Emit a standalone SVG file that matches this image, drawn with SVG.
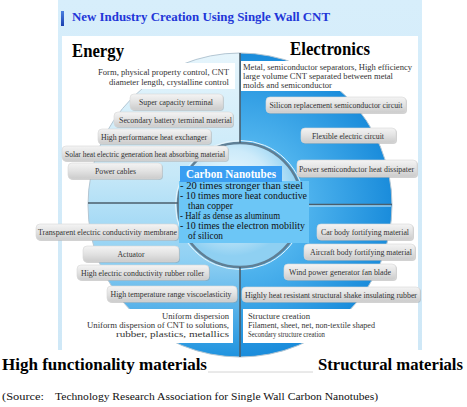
<svg xmlns="http://www.w3.org/2000/svg" width="467" height="407" viewBox="0 0 467 407" font-family="'Liberation Serif','Times New Roman',serif">
<style>
.serif{font-family:"Liberation Serif","Times New Roman",serif;}
.pill rect.bg{fill:url(#pillGrad);stroke:#d6d6d6;stroke-width:0.6;}
.pill rect.sh{fill:#9a9a9a;opacity:0.45;}
.pill text{font-family:"Liberation Serif","Times New Roman",serif;font-size:8px;fill:#333;text-anchor:middle;}
.desc{font-family:"Liberation Serif","Times New Roman",serif;font-size:9px;fill:#333;}
.head{font-family:"Liberation Serif","Times New Roman",serif;font-weight:bold;fill:#000;}
.div{stroke:#4b5e6b;stroke-width:1.6;fill:none;}
.cnt{font-family:"Liberation Serif","Times New Roman",serif;font-size:10px;fill:#111;}
</style>
<defs>
<linearGradient id="pillGrad" x1="0" y1="0" x2="0" y2="1">
<stop offset="0" stop-color="#f4f4f4"/>
<stop offset="0.5" stop-color="#e2e2e2"/>
<stop offset="1" stop-color="#cbcbcb"/>
</linearGradient>
<linearGradient id="topBg" x1="0" y1="0" x2="0" y2="1">
<stop offset="0" stop-color="#d7eefb"/>
<stop offset="1" stop-color="#cfe8f7"/>
</linearGradient>
<linearGradient id="leftGrad" gradientUnits="userSpaceOnUse" x1="0" y1="53" x2="0" y2="357">
<stop offset="0" stop-color="#e6f5fc"/>
<stop offset="0.4" stop-color="#c6e8f8"/>
<stop offset="0.68" stop-color="#8fd0f3"/>
<stop offset="1" stop-color="#1f93df"/>
</linearGradient>
<radialGradient id="rightGrad" gradientUnits="userSpaceOnUse" cx="240" cy="205" r="152">
<stop offset="0" stop-color="#9fd8f6"/>
<stop offset="0.45" stop-color="#4db2ed"/>
<stop offset="1" stop-color="#1a8cdb"/>
</radialGradient>
<radialGradient id="lensGrad" gradientUnits="userSpaceOnUse" cx="232" cy="190" r="66">
<stop offset="0" stop-color="#f2fbff"/>
<stop offset="0.6" stop-color="#cdebfa"/>
<stop offset="1" stop-color="#8fd0f2"/>
</radialGradient>
<linearGradient id="titleBar" x1="0" y1="0" x2="0" y2="1">
<stop offset="0" stop-color="#4a7fe0"/>
<stop offset="1" stop-color="#1a3fb0"/>
</linearGradient>
</defs>

<!-- background frame -->
<g id="frame">
<rect x="58" y="0" width="364" height="350" fill="url(#topBg)"/>
<rect x="62" y="36" width="356" height="314" fill="#ffffff"/>
</g>

<!-- big circle -->
<g id="circle">
<path d="M240,53 A152,152 0 0,0 240,357 Z" fill="url(#leftGrad)"/>
<path d="M240,53 A152,152 0 0,1 240,357 Z" fill="url(#rightGrad)"/>
<circle cx="240" cy="205" r="152" fill="none" stroke="#b3c6d3" stroke-width="1"/>
<circle cx="240" cy="205" r="62" fill="url(#lensGrad)" stroke="#5f7f95" stroke-width="2.5"/>
<circle cx="240" cy="205" r="64.5" fill="none" stroke="#e6f5fc" stroke-width="1"/>
</g>

<!-- connectors / dividers -->
<g id="connectors">
<line class="div" x1="240" y1="53" x2="240" y2="143"/>
<line class="div" x1="240" y1="267" x2="240" y2="357"/>
<line class="div" x1="88" y1="203" x2="178" y2="203"/>
<line class="div" x1="302" y1="204.5" x2="392" y2="204.5"/>
<line x1="302" y1="206" x2="391" y2="206" stroke="#cfeefc" stroke-width="1"/>
</g>

<!-- title -->
<g id="title">
<rect x="61" y="11" width="3" height="15" fill="url(#titleBar)"/>
<text x="72" y="21" class="serif" font-size="13" font-weight="bold" fill="#2236d8" textLength="258" lengthAdjust="spacingAndGlyphs">New Industry Creation Using Single Wall CNT</text>
</g>

<!-- quadrant headings -->
<g id="energy"><text class="head" x="72" y="57" font-size="18" textLength="52" lengthAdjust="spacingAndGlyphs">Energy</text></g>
<g id="electronics"><text class="head" x="290" y="55" font-size="18" textLength="80" lengthAdjust="spacingAndGlyphs">Electronics</text></g>
<g id="high-functionality"><text class="head" x="2" y="370" font-size="17" textLength="205" lengthAdjust="spacingAndGlyphs">High functionality materials</text></g>
<g id="structural"><text class="head" x="318" y="370" font-size="16.5" textLength="145" lengthAdjust="spacingAndGlyphs">Structural materials</text></g>
<line x1="208" y1="372" x2="313" y2="372" stroke="#d4d4d4" stroke-width="1"/>

<!-- descriptive boxes -->
<g id="energy-desc">
<rect x="93" y="63" width="142" height="26" fill="#ffffff"/>
<text class="desc" x="229" y="75" text-anchor="end" textLength="131" lengthAdjust="spacingAndGlyphs">Form, physical property control, CNT</text>
<text class="desc" x="229" y="85" text-anchor="end" textLength="120" lengthAdjust="spacingAndGlyphs">diameter length, crystalline control</text>
</g>
<g id="electronics-desc">
<rect x="241" y="61" width="172" height="30" fill="#ffffff"/>
<text class="desc" x="243" y="70" textLength="169" lengthAdjust="spacingAndGlyphs">Metal, semiconductor separators, High efficiency</text>
<text class="desc" x="243" y="79" textLength="150" lengthAdjust="spacingAndGlyphs">large volume CNT separated between metal</text>
<text class="desc" x="243" y="88" textLength="89" lengthAdjust="spacingAndGlyphs">molds and semiconductor</text>
</g>
<g id="functionality-desc">
<rect x="84" y="309" width="149" height="34" fill="#ffffff"/>
<text class="desc" x="229" y="319" text-anchor="end" textLength="67" lengthAdjust="spacingAndGlyphs">Uniform dispersion</text>
<text class="desc" x="229" y="328" text-anchor="end" textLength="142" lengthAdjust="spacingAndGlyphs">Uniform dispersion of CNT to solutions,</text>
<text class="desc" x="229" y="337" text-anchor="end" textLength="113" lengthAdjust="spacingAndGlyphs">rubber, plastics, metallics</text>
</g>
<g id="structural-desc">
<rect x="243" y="309" width="138" height="34" fill="#ffffff"/>
<text class="desc" x="248" y="319" textLength="62" lengthAdjust="spacingAndGlyphs">Structure creation</text>
<text class="desc" x="248" y="328" textLength="127" lengthAdjust="spacingAndGlyphs">Filament, sheet, net, non-textile shaped</text>
<text class="desc" x="248" y="337" textLength="77" lengthAdjust="spacingAndGlyphs">Secondary structure creation</text>
</g>

<!-- pills -->
<g id="p-super" class="pill"><rect class="sh" x="131" y="95" width="93" height="16" rx="4"/><rect class="bg" x="130" y="94" width="93" height="16" rx="4"/><text x="176" y="105" textLength="74" lengthAdjust="spacingAndGlyphs">Super capacity terminal</text></g>
<g id="p-secondary" class="pill"><rect class="sh" x="115" y="113" width="119" height="15" rx="4"/><rect class="bg" x="114" y="112" width="119" height="15" rx="4"/><text x="175.5" y="123" textLength="113" lengthAdjust="spacingAndGlyphs">Secondary battery terminal material</text></g>
<g id="p-heatex" class="pill"><rect class="sh" x="99" y="130" width="113" height="15" rx="4"/><rect class="bg" x="98" y="129" width="113" height="15" rx="4"/><text x="154" y="140" textLength="106" lengthAdjust="spacingAndGlyphs">High  performance heat exchanger</text></g>
<g id="p-solar" class="pill"><rect class="sh" x="63" y="147" width="166" height="15" rx="4"/><rect class="bg" x="62" y="146" width="166" height="15" rx="4"/><text x="145" y="157" textLength="160" lengthAdjust="spacingAndGlyphs">Solar heat electric generation heat absorbing material</text></g>
<g id="p-power" class="pill"><rect class="sh" x="69" y="164" width="94" height="16" rx="4"/><rect class="bg" x="68" y="163" width="94" height="16" rx="4"/><text x="115.5" y="174" textLength="41" lengthAdjust="spacingAndGlyphs">Power cables</text></g>
<g id="p-transparent" class="pill"><rect class="sh" x="37" y="225" width="142" height="16" rx="4"/><rect class="bg" x="36" y="224" width="142" height="16" rx="4"/><text x="107.5" y="235" textLength="139" lengthAdjust="spacingAndGlyphs">Transparent electric conductivity membrane</text></g>
<g id="p-actuator" class="pill"><rect class="sh" x="84" y="247" width="96" height="16" rx="4"/><rect class="bg" x="83" y="246" width="96" height="16" rx="4"/><text x="131" y="257" textLength="27" lengthAdjust="spacingAndGlyphs">Actuator</text></g>
<g id="p-roller" class="pill"><rect class="sh" x="78" y="266" width="132" height="15" rx="4"/><rect class="bg" x="77" y="265" width="132" height="15" rx="4"/><text x="142.5" y="276" textLength="123" lengthAdjust="spacingAndGlyphs">High  electric conductivity rubber roller</text></g>
<g id="p-visco" class="pill"><rect class="sh" x="108" y="287" width="130" height="16" rx="4"/><rect class="bg" x="107" y="286" width="130" height="16" rx="4"/><text x="171" y="297" textLength="121" lengthAdjust="spacingAndGlyphs">High  temperature range viscoelasticity</text></g>
<g id="p-silicon" class="pill"><rect class="sh" x="267" y="98" width="140" height="16" rx="4"/><rect class="bg" x="266" y="97" width="140" height="16" rx="4"/><text x="336" y="108" textLength="133" lengthAdjust="spacingAndGlyphs">Silicon replacement semiconductor circuit</text></g>
<g id="p-flexible" class="pill"><rect class="sh" x="302" y="129" width="95" height="15" rx="4"/><rect class="bg" x="301" y="128" width="95" height="15" rx="4"/><text x="348" y="139" textLength="72" lengthAdjust="spacingAndGlyphs">Flexible electric circuit</text></g>
<g id="p-dissipater" class="pill"><rect class="sh" x="298" y="161" width="120" height="17" rx="4"/><rect class="bg" x="297" y="160" width="120" height="17" rx="4"/><text x="356.5" y="172" textLength="115" lengthAdjust="spacingAndGlyphs">Power semiconductor heat dissipater</text></g>
<g id="p-car" class="pill"><rect class="sh" x="318" y="225" width="96" height="16" rx="4"/><rect class="bg" x="317" y="224" width="96" height="16" rx="4"/><text x="365" y="235" textLength="88" lengthAdjust="spacingAndGlyphs">Car body fortifying material</text></g>
<g id="p-aircraft" class="pill"><rect class="sh" x="305" y="245" width="111" height="16" rx="4"/><rect class="bg" x="304" y="244" width="111" height="16" rx="4"/><text x="361" y="255" textLength="102" lengthAdjust="spacingAndGlyphs">Aircraft body fortifying material</text></g>
<g id="p-wind" class="pill"><rect class="sh" x="285" y="265" width="112" height="16" rx="4"/><rect class="bg" x="284" y="264" width="112" height="16" rx="4"/><text x="340" y="275" textLength="102" lengthAdjust="spacingAndGlyphs">Wind power generator fan blade</text></g>
<g id="p-rubber" class="pill"><rect class="sh" x="243" y="288" width="178" height="15" rx="4"/><rect class="bg" x="242" y="287" width="178" height="15" rx="4"/><text x="331" y="298" textLength="172" lengthAdjust="spacingAndGlyphs">Highly heat resistant structural shake insulating rubber</text></g>

<!-- center: Carbon Nanotubes -->
<g id="carbon-nanotubes">
<rect x="179" y="181" width="130" height="62" fill="#6cc6f6"/>
<rect x="180" y="166" width="102" height="16" fill="#3a9ef2"/>
<text x="231" y="178" class="serif" font-size="13" font-weight="bold" fill="#ffffff" text-anchor="middle" textLength="90" lengthAdjust="spacingAndGlyphs">Carbon Nanotubes</text>
<text class="cnt" x="180" y="189" textLength="123" lengthAdjust="spacingAndGlyphs">- 20 times stronger than steel</text>
<text class="cnt" x="180" y="199" textLength="127" lengthAdjust="spacingAndGlyphs">- 10 times more heat conductive</text>
<text class="cnt" x="188" y="209" textLength="45" lengthAdjust="spacingAndGlyphs">than copper</text>
<text class="cnt" x="180" y="219" textLength="100" lengthAdjust="spacingAndGlyphs">- Half as dense as aluminum</text>
<text class="cnt" x="180" y="229" textLength="125" lengthAdjust="spacingAndGlyphs">- 10 times the electron mobility</text>
<text class="cnt" x="188" y="239" textLength="35" lengthAdjust="spacingAndGlyphs">of silicon</text>
</g>

<!-- source -->
<g id="source">
<text class="serif" x="2" y="400" font-size="10.5" fill="#111" textLength="42" lengthAdjust="spacingAndGlyphs">(Source:</text>
<text class="serif" x="55" y="400" font-size="10.5" fill="#111" textLength="323" lengthAdjust="spacingAndGlyphs">Technology Research Association for Single Wall Carbon Nanotubes)</text>
</g>
</svg>
